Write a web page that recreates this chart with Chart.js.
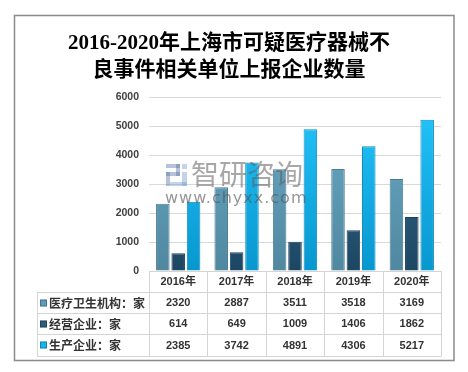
<!DOCTYPE html>
<html>
<head>
<meta charset="utf-8">
<script src="https://cdn.jsdelivr.net/npm/chart.js@4/dist/chart.umd.min.js"></script>
<style>
html,body{margin:0;padding:0;background:#fff;}
#wrap{width:468px;height:372px;position:relative;}
</style>
</head>
<body>
<div id="wrap"><canvas id="c" width="468" height="372"></canvas></div>
<script>
const titleLines = ['2016-2020年上海市可疑医疗器械不', '良事件相关单位上报企业数量'];
const categories = ['2016年', '2017年', '2018年', '2019年', '2020年'];
const seriesNames = ['医疗卫生机构：家', '经营企业：家', '生产企业：家'];
const medicalInstitutions = [2320, 2887, 3511, 3518, 3169];
const operatingEnterprises = [614, 649, 1009, 1406, 1862];
const manufacturers = [2385, 3742, 4891, 4306, 5217];
const yTicks = [0, 1000, 2000, 3000, 4000, 5000, 6000];

const gradStops = [
  ['#6eaccb', '#4f889f'],
  ['#406f90', '#1b4763'],
  ['#25c6fb', '#0797cf']
];
const legendColors = ['#5b9bbb', '#2f5d7c', '#14b4ee'];
const borderColors = ['#4d7d92', '#1f4058', '#0b8cc0'];

function grad(i) {
  return function(ctx) {
    const chart = ctx.chart;
    const a = chart.chartArea;
    if (!a) return gradStops[i][0];
    const g = chart.ctx.createLinearGradient(0, a.top, 0, a.bottom);
    g.addColorStop(0, gradStops[i][0]);
    g.addColorStop(1, gradStops[i][1]);
    return g;
  };
}

const allSeries = [medicalInstitutions, operatingEnterprises, manufacturers];

const tablePlugin = {
  id: 'tablePlugin',
  afterDatasetsDraw(chart) {
    const ctx = chart.ctx;
    ctx.save();
    ctx.fillStyle = 'rgba(95,95,95,0.55)';
    ctx.font = '28px "Noto Sans CJK SC"';
    ctx.textBaseline = 'middle';
    ctx.textAlign = 'left';
    ctx.fillText('智研咨询', 191, 174);
    ctx.fillStyle = 'rgba(80,80,80,0.6)';
    ctx.font = '16px "DejaVu Sans"';
    try { ctx.letterSpacing = '1px'; } catch (e) {}
    ctx.fillText('www.chyxx.com', 165, 199);
    try { ctx.letterSpacing = '0px'; } catch (e) {}
    ctx.fillStyle = 'rgba(90,120,170,0.45)';
    ctx.fillRect(166, 164, 14, 4);
    ctx.fillRect(176, 164, 4, 12);
    ctx.fillRect(166, 172, 14, 4);
    ctx.fillRect(166, 172, 4, 14);
    ctx.fillStyle = 'rgba(120,160,210,0.45)';
    ctx.fillRect(182, 164, 5, 5);
    ctx.fillRect(182, 172, 5, 14);
    ctx.fillRect(170, 182, 17, 4);
    ctx.restore();
  },
  afterDraw(chart) {
    const ctx = chart.ctx;
    const a = chart.chartArea;
    const x = chart.scales.x;
    const n = categories.length;
    const cw = (a.right - a.left) / n;
    const left = 37;
    const rowTop = a.bottom;
    const rowH = [21, 21, 21, 22];
    const ys = [rowTop];
    for (let i = 0; i < rowH.length; i++) ys.push(ys[i] + rowH[i]);
    ctx.save();
    ctx.strokeStyle = '#d4d4d4';
    ctx.lineWidth = 1;
    ctx.beginPath();
    ctx.moveTo(a.left, Math.round(ys[0]) + 0.5);
    ctx.lineTo(a.right, Math.round(ys[0]) + 0.5);
    for (let r = 1; r < ys.length; r++) {
      ctx.moveTo(left, Math.round(ys[r]) + 0.5);
      ctx.lineTo(a.right, Math.round(ys[r]) + 0.5);
    }
    for (let c = 0; c <= n; c++) {
      const px = Math.round(a.left + c * cw) + 0.5;
      ctx.moveTo(px, ys[0]);
      ctx.lineTo(px, ys[ys.length - 1] + 0.5);
    }
    ctx.moveTo(left + 0.5, ys[1]);
    ctx.lineTo(left + 0.5, ys[ys.length - 1] + 0.5);
    ctx.stroke();

    ctx.fillStyle = '#333333';
    ctx.textAlign = 'center';
    ctx.textBaseline = 'middle';
    ctx.font = 'bold 11px "Liberation Sans", "Noto Sans CJK SC"';
    for (let c = 0; c < n; c++) {
      const cx = x.getPixelForValue(c);
      ctx.fillText(categories[c], cx, (ys[0] + ys[1]) / 2 + 0.5);
      for (let s = 0; s < allSeries.length; s++) {
        ctx.fillText(String(allSeries[s][c]), cx, (ys[s + 1] + ys[s + 2]) / 2 + 0.5);
      }
    }
    ctx.textAlign = 'left';
    for (let s = 0; s < seriesNames.length; s++) {
      const cy = (ys[s + 1] + ys[s + 2]) / 2;
      ctx.fillStyle = legendColors[s];
      ctx.fillRect(40, Math.round(cy) - 3.5, 7, 7);
      ctx.strokeStyle = 'rgba(0,0,0,0.25)';
      ctx.strokeRect(40.5, Math.round(cy) - 3, 6, 6);
      ctx.fillStyle = '#333333';
      ctx.font = 'bold 12px "Noto Sans CJK SC"';
      ctx.fillText(seriesNames[s], 49, cy + 0.5);
    }
    ctx.strokeStyle = '#8a8a8a';
    ctx.lineWidth = 1.5;
    ctx.strokeRect(14.5, 15.5, 439.5, 345);
    ctx.restore();
  }
};

new Chart(document.getElementById('c'), {
  type: 'bar',
  data: {
    labels: categories,
    datasets: [
      { label: seriesNames[0], data: medicalInstitutions, backgroundColor: grad(0), borderColor: borderColors[0], borderWidth: 1 },
      { label: seriesNames[1], data: operatingEnterprises, backgroundColor: grad(1), borderColor: borderColors[1], borderWidth: 1 },
      { label: seriesNames[2], data: manufacturers, backgroundColor: grad(2), borderColor: borderColors[2], borderWidth: 1 }
    ]
  },
  options: {
    responsive: false,
    animation: false,
    devicePixelRatio: 1,
    layout: { padding: { left: 17, right: 27, top: 30, bottom: 101 } },
    datasets: { bar: { categoryPercentage: 0.79, barPercentage: 0.88 } },
    plugins: {
      legend: { display: false },
      tooltip: { enabled: false },
      title: {
        display: true,
        text: titleLines,
        color: '#000000',
        font: { size: 21, weight: 'bold', family: '"Liberation Serif", "Noto Sans CJK SC"', lineHeight: 27 / 21 },
        padding: { top: 0, bottom: 13 }
      }
    },
    scales: {
      x: { display: false, grid: { display: false } },
      y: {
        min: 0,
        max: 6000,
        afterFit(s) { s.width = 132; },
        afterBuildTicks(s) { s.ticks = yTicks.map(v => ({ value: v })); },
        grid: { color: '#d9d9d9', drawTicks: false },
        border: { display: false },
        ticks: {
          padding: 10,
          color: '#404040',
          font: { size: 10.5, weight: 'bold', family: '"Liberation Sans"' },
          callback: v => String(v)
        }
      }
    }
  },
  plugins: [tablePlugin]
});
</script>
</body>
</html>
